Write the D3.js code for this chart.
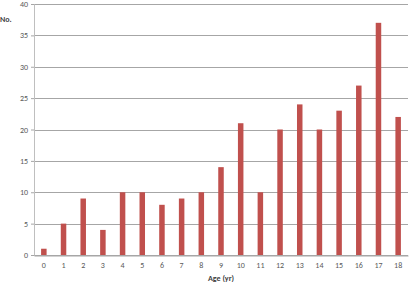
<!DOCTYPE html>
<html>
<head>
<meta charset="utf-8">
<script src="https://cdn.jsdelivr.net/npm/d3@7"></script>
<style>
  body { margin: 0; background: #fff; }
  svg text { font-family: Calibri, Carlito, "Open Sans", sans-serif; }
</style>
</head>
<body>
<div id="chart"></div>
<script>
const ages = ['0', '1', '2', '3', '4', '5', '6', '7', '8', '9', '10', '11', '12', '13', '14', '15', '16', '17', '18'];
const counts = [1, 5, 9, 4, 10, 10, 8, 9, 10, 14, 21, 10, 20, 24, 20, 23, 27, 37, 22];
const yTicks = [0, 5, 10, 15, 20, 25, 30, 35, 40];

const W = 412;
const H = 282;
const margin = { top: 4, right: 4, bottom: 27, left: 34 };
const width = W - margin.left - margin.right;
const height = H - margin.top - margin.bottom;

const svg = d3.select('#chart').append('svg')
  .attr('width', W)
  .attr('height', H);

const g = svg.append('g').attr('transform', `translate(${margin.left},${margin.top})`);

const x = d3.scaleBand().domain(ages).range([0, width]).paddingInner(0).paddingOuter(0);
const y = d3.scaleLinear().domain([0, 40]).range([height, 0]);

// gridlines
g.append('g')
  .selectAll('line')
  .data(yTicks)
  .join('line')
  .attr('x1', 0)
  .attr('x2', width)
  .attr('y1', d => Math.round(y(d)) + 0.5)
  .attr('y2', d => Math.round(y(d)) + 0.5)
  .attr('stroke', '#a6a6a6')
  .attr('stroke-width', 1);

// y axis
const yAxis = g.append('g')
  .call(d3.axisLeft(y).tickValues(yTicks).tickSize(3).tickPadding(3));
yAxis.select('.domain').attr('stroke', '#bfbfbf');
yAxis.selectAll('.tick line').attr('stroke', '#a6a6a6');
yAxis.selectAll('.tick text').attr('fill', '#595959').style('font-size', '8px');

// bars
const barW = 5.5;
g.append('g')
  .selectAll('rect')
  .data(counts)
  .join('rect')
  .attr('x', (d, i) => x(ages[i]) + x.bandwidth() / 2 - barW / 2)
  .attr('y', d => y(d))
  .attr('width', barW)
  .attr('height', d => y(0) - y(d))
  .attr('fill', '#c0504d');

// x axis
const xAxis = g.append('g')
  .attr('transform', `translate(0,${Math.round(height) + 0.5})`)
  .call(d3.axisBottom(x).tickSize(0).tickPadding(7));
xAxis.select('.domain').attr('stroke', '#a6a6a6');
xAxis.selectAll('.tick text').attr('fill', '#595959').style('font-size', '8px');

// axis titles
svg.append('text')
  .attr('x', margin.left + width / 2)
  .attr('y', H - 1)
  .attr('text-anchor', 'middle')
  .style('font-size', '8px')
  .style('font-weight', 'bold')
  .attr('fill', '#404040')
  .text('Age (yr)');

svg.append('text')
  .attr('x', 0)
  .attr('y', 22)
  .style('font-size', '8px')
  .style('font-weight', 'bold')
  .attr('fill', '#404040')
  .text('No.');
</script>
</body>
</html>
